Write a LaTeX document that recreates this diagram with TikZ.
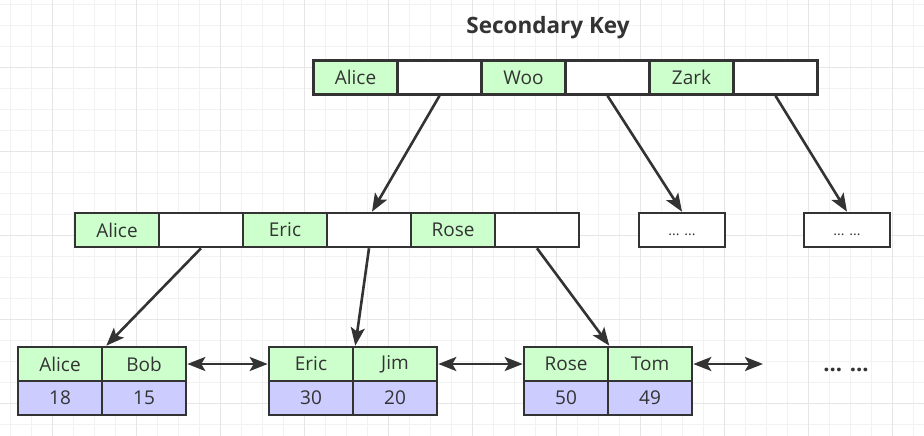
\documentclass[tikz,border=0pt]{standalone}
\usepackage{fontspec}
\setmainfont{Open Sans}
\usetikzlibrary{arrows.meta}
\definecolor{txt}{HTML}{333333}
\definecolor{edge}{HTML}{333333}
\definecolor{keyfill}{HTML}{CCFFCC}
\definecolor{valfill}{HTML}{CCCCFF}
\definecolor{gridminor}{HTML}{F2F2F2}
\definecolor{gridmajor}{HTML}{E6E6E6}
\tikzset{
  cell/.style={draw=edge, line width=2.6pt, minimum width=84pt, minimum height=34pt,
    inner sep=0pt, text=txt, font=\fontsize{19}{22}\selectfont, anchor=center},
  keycell/.style={cell, fill=keyfill},
  valcell/.style={cell, fill=valfill},
  blankcell/.style={cell, fill=white},
  dotbox/.style={cell, fill=white, minimum width=86pt, font=\fontsize{14}{16}\selectfont,
    text height=10pt, text depth=0pt},
  tip/.tip={Stealth[length=18pt,width=14pt,inset=4pt]},
  arr/.style={draw=edge, line width=2.6pt, -tip},
  dbl/.style={draw=edge, line width=2.6pt, tip-tip}
}
\begin{document}
\begin{tikzpicture}[x=1pt,y=-1pt]
\useasboundingbox (0,0) rectangle (924,436);
\fill[white] (0,0) rectangle (924,436);
% grid
\foreach \x in {10,31,...,924} \draw[gridminor, line width=0.8pt] (\x,0) -- (\x,436);
\foreach \y in {4,25,...,436} \draw[gridminor, line width=0.8pt] (0,\y) -- (924,\y);
\foreach \x in {52,136,...,924} \draw[gridmajor, line width=0.9pt] (\x,0) -- (\x,436);
\foreach \y in {67,151,...,436} \draw[gridmajor, line width=0.9pt] (0,\y) -- (924,\y);

% title
\node[font=\bfseries\fontsize{22.5}{26}\selectfont, text=txt] (title) at (548,28) {Secondary Key};

% top node
\node[keycell]   (t1) at (355.5,77.5) {Alice};
\node[blankcell] (t2) at (439.5,77.5) {};
\node[keycell]   (t3) at (523.5,77.5) {Woo};
\node[blankcell] (t4) at (607.5,77.5) {};
\node[keycell]   (t5) at (691.5,77.5) {Zark};
\node[blankcell] (t6) at (775.5,77.5) {};

% middle node
\node[keycell]   (m1) at (117,230) {Alice};
\node[blankcell] (m2) at (201,230) {};
\node[keycell]   (m3) at (285,230) {Eric};
\node[blankcell] (m4) at (369,230) {};
\node[keycell]   (m5) at (453,230) {Rose};
\node[blankcell] (m6) at (537,230) {};

\node[dotbox] (d1) at (682,230) {... ...};
\node[dotbox] (d2) at (847,230) {... ...};

% leaves
\node[keycell] (l1a) at (60,364) {Alice};
\node[keycell] (l1b) at (144,364) {Bob};
\node[valcell] (l1c) at (60,398) {18};
\node[valcell] (l1d) at (144,398) {15};

\node[keycell] (l2a) at (311,364) {Eric};
\node[keycell] (l2b) at (395,364) {Jim};
\node[valcell] (l2c) at (311,398) {30};
\node[valcell] (l2d) at (395,398) {20};

\node[keycell] (l3a) at (566,364) {Rose};
\node[keycell] (l3b) at (650,364) {Tom};
\node[valcell] (l3c) at (566,398) {50};
\node[valcell] (l3d) at (650,398) {49};

\node[font=\bfseries\fontsize{22}{24}\selectfont, text=txt] (more) at (846,370) {... ...};
\coordinate (rend) at (763,364);

% connectors
\draw[arr] (t2.south) -- ([xshift=3pt]m4.north);
\draw[arr] (t4.south) -- (d1.north);
\draw[arr] (t6.south) -- (d2.north);
\draw[arr] (m2.south) -- ([xshift=3pt]l1a.north east);
\draw[arr] (m4.south) -- ([xshift=1pt]l2a.north east);
\draw[arr] (m6.south) -- (l3a.north east);
\draw[dbl] (l1b.east) -- (l2a.west);
\draw[dbl] (l2b.east) -- (l3a.west);
\draw[dbl] (l3b.east) -- (rend);
\end{tikzpicture}
\end{document}
